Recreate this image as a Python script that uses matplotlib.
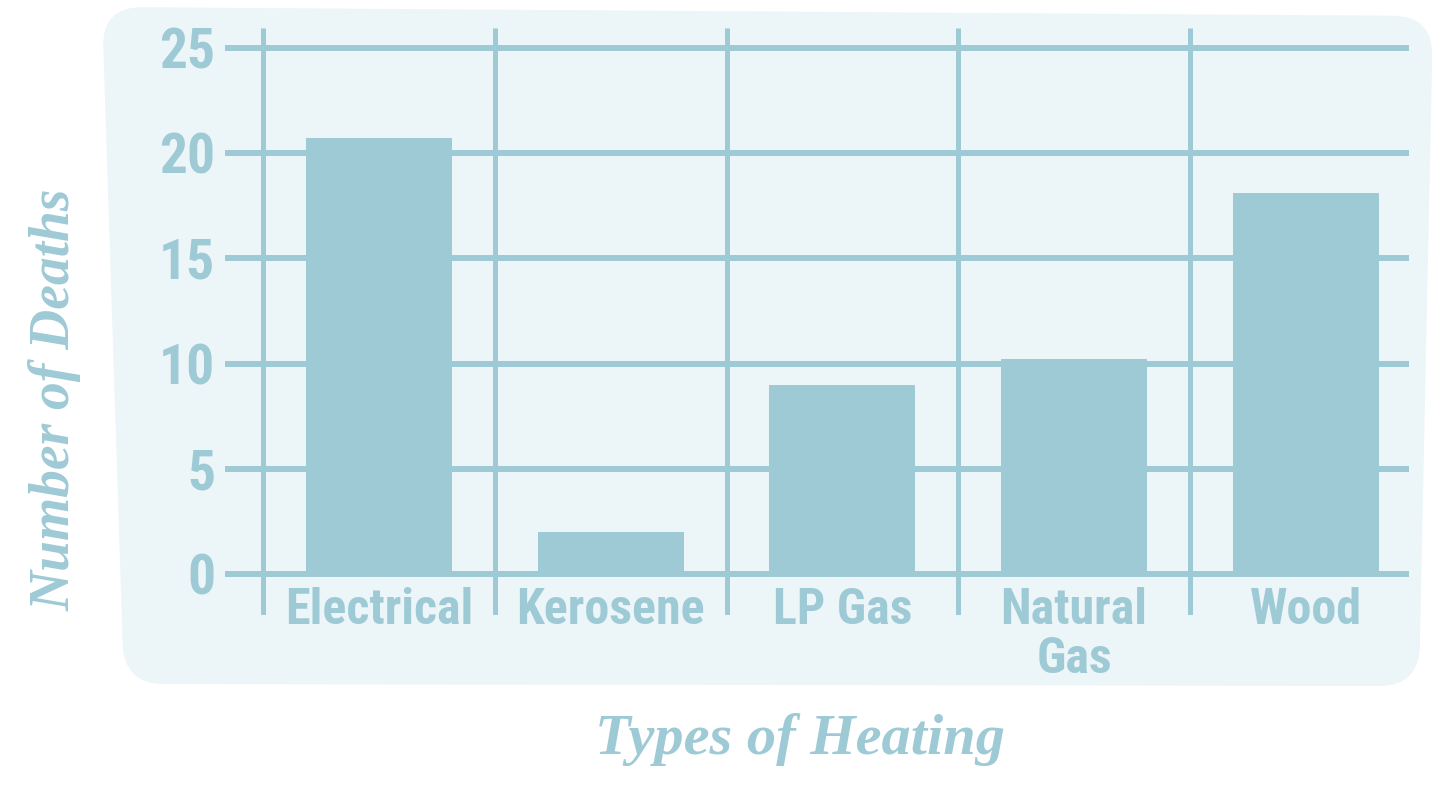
import numpy as np
import matplotlib
matplotlib.use("Agg")
import matplotlib.pyplot as plt
from matplotlib.path import Path
from matplotlib.patches import PathPatch

heating_types = ["Electrical", "Kerosene", "LP Gas", "Natural\nGas", "Wood"]
deaths = [20.7, 2.0, 9.0, 10.2, 18.1]
y_ticks = [0, 5, 10, 15, 20, 25]

BLUE = "#9ECAD6"
PANEL = "#ECF5F7"
W, H = 1436, 785

fig = plt.figure(figsize=(W / 100, H / 100), dpi=100)
fig.patch.set_facecolor("white")


def rounded_quad(corners, r):
    # corners in pixel coords (y down), returns a closed path in figure fraction
    pts = [np.array(c, float) for c in corners]
    verts, codes = [], []
    n = len(pts)
    for i in range(n):
        p, a, b = pts[i], pts[i - 1], pts[(i + 1) % n]
        p1 = p + r * (a - p) / np.linalg.norm(a - p)
        p2 = p + r * (b - p) / np.linalg.norm(b - p)
        verts += [p1, p, p2]
        codes += [Path.MOVETO if i == 0 else Path.LINETO, Path.CURVE3, Path.CURVE3]
    verts.append(verts[0])
    codes.append(Path.CLOSEPOLY)
    verts = [(v[0] / W, 1 - v[1] / H) for v in verts]
    return Path(verts, codes)


panel = PathPatch(rounded_quad([(102, 7), (1433, 16), (1419, 686), (124, 684)], 40),
                  facecolor=PANEL, edgecolor="none", transform=fig.transFigure, zorder=-5)
fig.patches.append(panel)

ax = fig.add_axes([225 / W, 1 - 615 / H, (1409 - 225) / W, (615 - 28) / H])
ax.set_zorder(5)
ax.set_facecolor("none")
x = np.arange(len(heating_types))
ax.set_xlim(-0.664, 4.445)
ax.set_ylim(-1.95, 25.95)

# grid
ax.hlines(y_ticks, -0.664, 4.445, color=BLUE, lw=4.3, zorder=1)
ax.vlines(x - 0.5, -1.95, 25.95, color=BLUE, lw=3.6, zorder=1)

ax.bar(x, deaths, width=0.63, color=BLUE, zorder=2)

for s in ax.spines.values():
    s.set_visible(False)

font = ["Roboto Condensed", "DejaVu Sans"]
ax.set_yticks(y_ticks)
ax.set_yticklabels([str(t) for t in y_ticks], family=font, fontweight="bold",
                   fontstretch="condensed", fontsize=40, color=BLUE)
ax.set_xticks(x)
ax.set_xticklabels(heating_types, family=font, fontweight="bold", fontstretch="condensed",
                   fontsize=36, color=BLUE, linespacing=1.05)
ax.tick_params(axis="y", length=0, pad=7)
ax.tick_params(axis="x", length=0, pad=-20)

fig.text(55 / W, 1 - 400 / H, "Number of Deaths", rotation=90, ha="center", va="center",
         family="Liberation Serif", style="italic", fontweight="bold", fontsize=40, color=BLUE)
fig.text(800 / W, 1 - 740 / H, "Types of Heating", ha="center", va="center",
         family="Liberation Serif", style="italic", fontweight="bold", fontsize=42, color=BLUE)

fig.savefig("out.png", dpi=100)
